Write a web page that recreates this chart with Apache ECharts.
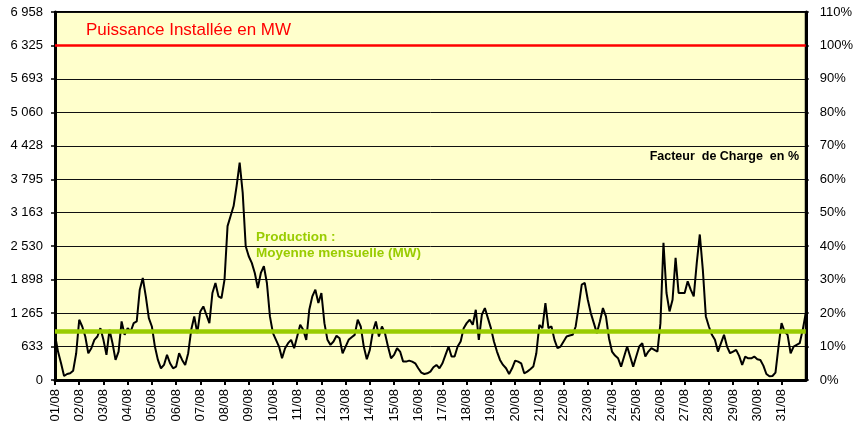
<!DOCTYPE html>
<html>
<head>
<meta charset="utf-8">
<script src="https://cdn.jsdelivr.net/npm/echarts@6/dist/echarts.min.js"></script>
<style>
html,body{margin:0;padding:0;background:#fff;}
#chart{width:856px;height:435px;}
</style>
</head>
<body>
<div id="chart"></div>
<script>
// Day labels (x axis)
const dayLabels = ["01/08","02/08","03/08","04/08","05/08","06/08","07/08","08/08","09/08","10/08",
  "11/08","12/08","13/08","14/08","15/08","16/08","17/08","18/08","19/08","20/08",
  "21/08","22/08","23/08","24/08","25/08","26/08","27/08","28/08","29/08","30/08","31/08"];
// Left axis tick labels (MW)
const mwTickLabels = ["0","633","1 265","1 898","2 530","3 163","3 795","4 428","5 060","5 693","6 325","6 958"];
// Reference lines (% of installed capacity)
const capacityPct = 100;
const monthlyMeanPct = 14.6;
// Load factor in %, one sample every 3 hours (8 per day), one line per day
const loadFactorPct = [
  13.5, 8.5, 5, 1.2, 1.8, 2, 2.8, 8,
  18, 16, 13, 8, 9.5, 12, 13, 15.5,
  12, 7.5, 15, 11, 6, 8.5, 17.5, 13.5,
  15.5, 14.5, 17, 17.5, 27, 30.5, 25, 18.5,
  16, 10, 6, 3.5, 4.5, 7.5, 5, 3.5,
  4, 8, 6, 4.5, 8, 15, 19, 14,
  20.5, 22, 19.5, 17, 26, 29, 25, 24.5,
  30, 46, 49, 52, 58, 65, 56, 40,
  37, 35, 32, 27.5, 32, 34, 29, 19,
  14, 12, 10, 6.5, 9.5, 11, 12, 9.5,
  13, 16.5, 15, 12, 21, 25, 27, 23,
  26, 17, 12, 10.5, 11.5, 13.2, 12.5, 8,
  10, 12, 12.8, 13.5, 18, 16, 10, 6.2,
  9, 14.5, 17.5, 13, 16, 14, 10, 6.5,
  7.5, 9.5, 8.5, 5.5, 5.5, 5.8, 5.5, 5,
  3.5, 2.2, 1.8, 2, 2.5, 3.8, 4.5, 3.5,
  5, 7.5, 10, 7, 7, 10, 11.5, 15.5,
  17, 18, 16.5, 21, 12, 19.5, 21.5, 18.5,
  15.5, 11.5, 8.5, 6, 4.5, 3.5, 1.8, 3.5,
  5.8, 5.5, 5, 2, 2.5, 3.2, 4, 8,
  16.5, 15.5, 23, 15.5, 16, 12, 9.5, 10,
  11.5, 13, 13.3, 13.5, 16, 22, 28.5, 29,
  24, 20, 17, 14, 17.5, 21.5, 19, 12.5,
  8.5, 7.3, 6.5, 4, 7, 10, 7, 4,
  7, 10, 11, 7, 8.5, 9.5, 9, 8.5,
  17, 41, 26, 20.5, 24, 36.5, 26, 26,
  26, 29.5, 27, 25, 35, 43.5, 33, 19,
  16, 13.5, 12, 8.5, 11, 13.5, 10, 8,
  8.5, 9, 7.2, 4.5, 7, 6.5, 6.5, 7,
  6.2, 6, 4.3, 1.8, 1.1, 1.2, 2.2, 10,
  17, 14.5, 13.5, 8, 10, 10.5, 11, 15,
  20
];
const samplesPerDay = 8;

const seriesData = loadFactorPct.map((v, i) => [i, v]);
const font = "Arial, 'Liberation Sans', sans-serif";

const chart = echarts.init(document.getElementById('chart'), null, {renderer: 'canvas'});
chart.setOption({
  animation: false,
  backgroundColor: '#ffffff',
  grid: {
    left: 55, right: 48, top: 12, bottom: 55,
    show: true, backgroundColor: '#ffffcc', borderColor: '#000', borderWidth: 2
  },
  xAxis: {
    type: 'value',
    min: 0,
    max: dayLabels.length * samplesPerDay,
    interval: samplesPerDay,
    splitLine: {show: false},
    axisLine: {show: true, onZero: false, lineStyle: {color: '#000', width: 3}},
    axisTick: {show: true, inside: false, length: 5, lineStyle: {color: '#000', width: 2}},
    axisLabel: {
      rotate: 90, margin: 9, color: '#000', fontSize: 13, fontFamily: font,
      showMaxLabel: false,
      formatter: v => dayLabels[Math.round(v / samplesPerDay)] || ''
    }
  },
  yAxis: [
    {
      type: 'value', position: 'left', min: 0, max: 110, interval: 10,
      axisLine: {show: true, lineStyle: {color: '#000', width: 3}},
      axisTick: {show: true, length: 4, lineStyle: {color: '#000', width: 1.5}},
      splitLine: {show: true, lineStyle: {color: '#111', width: 1}},
      axisLabel: {
        margin: 12, color: '#000', fontSize: 13, fontFamily: font,
        formatter: v => mwTickLabels[Math.round(v / 10)]
      }
    },
    {
      type: 'value', position: 'right', min: 0, max: 110, interval: 10,
      axisLine: {show: true, lineStyle: {color: '#000', width: 3}},
      axisTick: {show: true, length: 3, lineStyle: {color: '#000', width: 1.5}},
      splitLine: {show: false},
      axisLabel: {
        margin: 14, color: '#000', fontSize: 13, fontFamily: font,
        formatter: v => v + '%'
      }
    }
  ],
  series: [{
    type: 'line',
    yAxisIndex: 1,
    data: seriesData,
    showSymbol: false,
    symbol: 'none',
    lineStyle: {color: '#000', width: 2},
    silent: true,
    markLine: {
      silent: true,
      symbol: ['none', 'none'],
      label: {show: false},
      emphasis: {disabled: true},
      data: [
        {yAxis: capacityPct, lineStyle: {color: '#ff0000', width: 2.5, type: 'solid'}},
        {yAxis: monthlyMeanPct, lineStyle: {color: '#99cc00', width: 4.5, type: 'solid'}}
      ]
    }
  }],
  graphic: [
    {type: 'text', x: 86, y: 30, silent: true,
     style: {text: 'Puissance Installée en MW', fill: '#ff0000', font: '17px ' + font, textVerticalAlign: 'middle'}},
    {type: 'text', x: 799, y: 157, silent: true,
     style: {text: 'Facteur  de Charge  en %', fill: '#000', font: 'bold 12.5px ' + font, textAlign: 'right', textVerticalAlign: 'middle'}},
    {type: 'text', x: 256, y: 237, silent: true,
     style: {text: 'Production :', fill: '#99cc00', font: 'bold 13.5px ' + font, textVerticalAlign: 'middle'}},
    {type: 'text', x: 256, y: 253, silent: true,
     style: {text: 'Moyenne mensuelle (MW)', fill: '#99cc00', font: 'bold 13.5px ' + font, textVerticalAlign: 'middle'}}
  ]
});
</script>
</body>
</html>
